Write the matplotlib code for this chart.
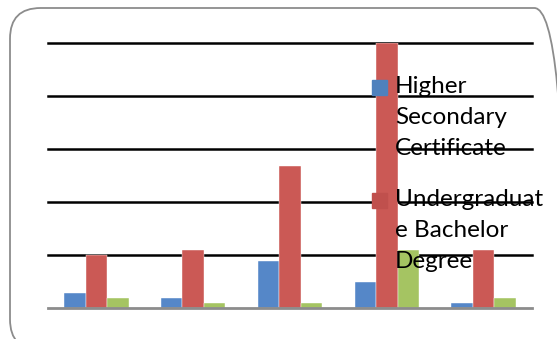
import matplotlib
matplotlib.use("Agg")
import matplotlib.pyplot as plt
from matplotlib.patches import FancyBboxPatch, Rectangle
import numpy as np

W, H = 557, 339
DPI = 100

categories = ["1", "2", "3", "4", "5"]
series_names = ["Higher\nSecondary\nCertificate", "Undergraduat\ne Bachelor\nDegree", "Other"]
higher_secondary = [2.8, 1.9, 8.9, 4.9, 0.9]
undergraduate = [10.0, 10.9, 26.8, 50.0, 10.9]
other = [1.9, 0.9, 0.9, 10.9, 1.9]
y_ticks = [0, 10, 20, 30, 40, 50]

bar_colors = ["#5587C8", "#CB5955", "#A5C462"]
marker_colors = ["#4F81BD", "#C0504D"]

fig = plt.figure(figsize=(W / DPI, H / DPI), dpi=DPI)

def fx(px):
    return px / W

def fy(py):
    return 1 - py / H

# rounded chart border
border = FancyBboxPatch((fx(10), fy(350)), fx(565) - fx(10), fy(8) - fy(350),
                        boxstyle="round,pad=0,rounding_size=0.055",
                        transform=fig.transFigure, fill=False,
                        edgecolor="#8C8C8C", linewidth=1.3,
                        mutation_aspect=W / H)
fig.patches.append(border)

ax = fig.add_axes([fx(48), fy(308), fx(532) - fx(48), fy(43) - fy(308)])
x = np.arange(len(categories))
bw = 0.222
for i, (vals, c) in enumerate(zip([higher_secondary, undergraduate, other], bar_colors)):
    ax.bar(x + (i - 1) * bw, vals, width=bw, color=c, zorder=3,
           edgecolor="white", linewidth=0.3)

ax.set_xlim(-0.5, len(categories) - 0.5)
ax.set_ylim(0, 50)
for t in y_ticks[1:]:
    ax.axhline(t, color="black", linewidth=1.8, zorder=1, clip_on=False)
ax.axhline(0, color="#8C8C8C", linewidth=2.0, zorder=4, clip_on=False)
for s in ax.spines.values():
    s.set_visible(False)
ax.set_xticks([])
ax.set_yticks([])
ax.patch.set_alpha(0)

# legend (manually laid out, as in the reference)
font = "Lato"
fs = 17.5
entries = [(series_names[0], marker_colors[0], 80), (series_names[1], marker_colors[1], 193)]
for label, col, top in entries:
    fig.patches.append(Rectangle((fx(372), fy(top + 15)), 15 / W, 15 / H,
                                 transform=fig.transFigure, color=col, zorder=10))
    fig.text(fx(395), fy(top - 4), label, ha="left", va="top", fontsize=fs,
             family=font, linespacing=1.6, zorder=11, color="black")

fig.savefig("out.png", dpi=DPI)
